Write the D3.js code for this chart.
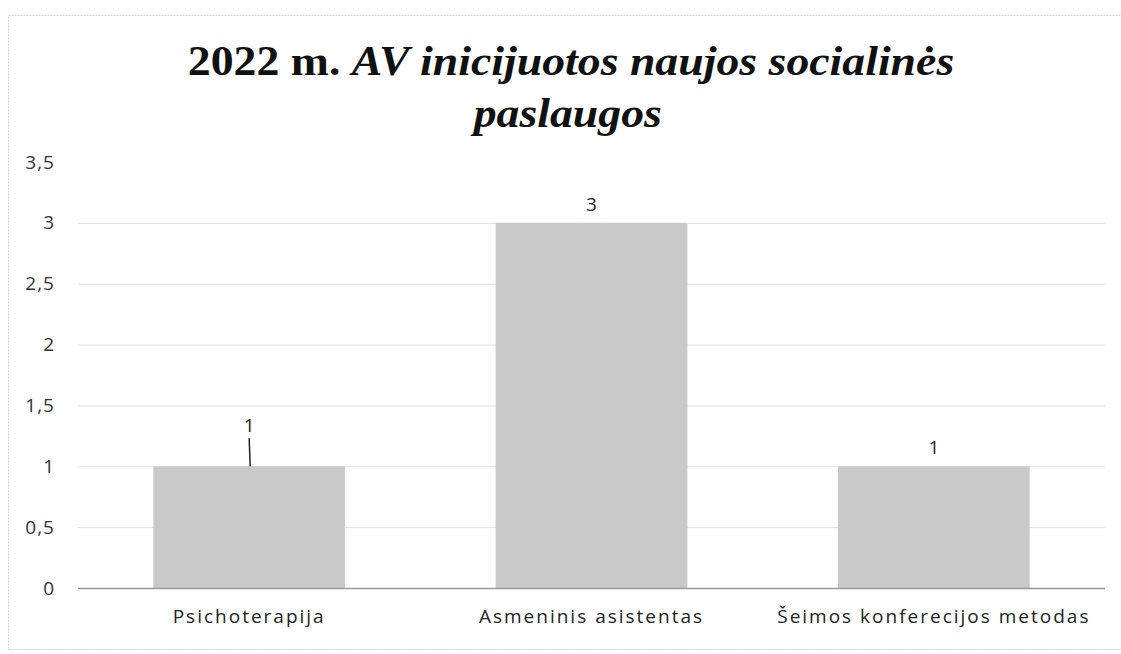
<!DOCTYPE html>
<html>
<head>
<meta charset="utf-8">
<script src="https://cdn.jsdelivr.net/npm/d3@7"></script>
<style>
  body { margin: 0; background: #fff; }
</style>
</head>
<body>
<div class="chart"></div>
<script>
// Data
var categories = ["Psichoterapija", "Asmeninis asistentas", "Šeimos konferecijos metodas"];
var values = [1, 3, 1];
var yTicks = [0, 0.5, 1, 1.5, 2, 2.5, 3, 3.5];

var svgWidth = 1121;
var svgHeight = 654;

var margin = { top: 162, right: 16, bottom: 66, left: 78 };
var width = svgWidth - margin.left - margin.right;
var height = svgHeight - margin.top - margin.bottom;

var labelFont = "'Open Sans', sans-serif";

var root = d3.select(".chart")
  .append("svg")
  .attr("width", svgWidth)
  .attr("height", svgHeight);

// chart frame
root.append("rect")
  .attr("x", 8.5).attr("y", 15.5)
  .attr("width", 1130).attr("height", 634)
  .attr("fill", "none")
  .attr("stroke", "#cfcfcf")
  .attr("stroke-dasharray", "2,1");

// title (the scan is a little stretched sideways, so widen it a bit)
var title = root.append("g")
  .attr("transform", "translate(571,0) scale(1.09,1)")
  .append("text")
  .attr("text-anchor", "middle")
  .style("font-family", "'Liberation Serif', 'Times New Roman', serif")
  .style("font-weight", "bold")
  .style("font-size", "42px")
  .style("fill", "#111");
var line1 = title.append("tspan").attr("x", 0).attr("y", 75);
line1.append("tspan").text("2022 m. ");
line1.append("tspan").style("font-style", "italic").text("AV inicijuotos naujos socialinės");
title.append("tspan").attr("x", -3).attr("y", 127)
  .style("font-style", "italic").text("paslaugos");

var svg = root.append("g")
  .attr("transform", `translate(${margin.left}, ${margin.top})`);

var xScale = d3.scaleBand()
  .domain(categories)
  .range([0, width])
  .paddingInner(0.44)
  .paddingOuter(0.22);

var yScale = d3.scaleLinear().domain([0, 3.5]).range([height, 0]);

var fmt = function(d) { return String(d).replace(".", ","); };

// gridlines
svg.append("g")
  .selectAll("line")
  .data(yTicks.filter(function(d) { return d > 0 && d < 3.5; }))
  .enter().append("line")
  .attr("x1", 0).attr("x2", width)
  .attr("y1", function(d) { return yScale(d) + 0.5; })
  .attr("y2", function(d) { return yScale(d) + 0.5; })
  .attr("stroke", "#e0e0e0")
  .attr("stroke-width", 1);

// y axis labels
var yAxis = d3.axisLeft(yScale).tickValues(yTicks).tickFormat(fmt).tickSize(0).tickPadding(23);
svg.append("g").call(yAxis)
  .call(function(g) { g.select(".domain").remove(); })
  .selectAll("text")
  .style("font-family", labelFont)
  .style("font-size", "19px")
  .style("letter-spacing", "1px")
  .style("fill", "#333");

// bars
svg.append("g")
  .selectAll("rect")
  .data(values)
  .enter().append("rect")
  .attr("x", function(d, i) { return xScale(categories[i]); })
  .attr("y", function(d) { return yScale(d); })
  .attr("width", xScale.bandwidth())
  .attr("height", function(d) { return height - yScale(d); })
  .attr("fill", "#c9c9c9");

// zero line
svg.append("line")
  .attr("x1", 0).attr("x2", width)
  .attr("y1", height + 0.5).attr("y2", height + 0.5)
  .attr("stroke", "#9a9a9a").attr("stroke-width", 1.5);

// x axis labels
var xAxis = d3.axisBottom(xScale).tickSize(0).tickPadding(22);
svg.append("g")
  .attr("transform", `translate(0, ${height})`)
  .call(xAxis)
  .call(function(g) { g.select(".domain").remove(); })
  .selectAll("text")
  .style("font-family", labelFont)
  .style("font-size", "19px")
  .style("letter-spacing", "2px")
  .style("fill", "#222");

// data labels (first one lifted with a leader line, as in the original)
var lift = [22, 0, 0];
var labels = svg.append("g");
values.forEach(function(d, i) {
  var cx = xScale(categories[i]) + xScale.bandwidth() / 2;
  var y = yScale(d) - 12 - lift[i];
  labels.append("text")
    .attr("x", cx).attr("y", y)
    .attr("text-anchor", "middle")
    .style("font-family", labelFont)
    .style("font-size", "19px")
    .style("fill", "#222")
    .text(d);
  if (lift[i] > 0) {
    labels.append("line")
      .attr("x1", cx).attr("x2", cx + 1)
      .attr("y1", y + 6).attr("y2", yScale(d))
      .attr("stroke", "#222").attr("stroke-width", 1.5);
  }
});
</script>
</body>
</html>
